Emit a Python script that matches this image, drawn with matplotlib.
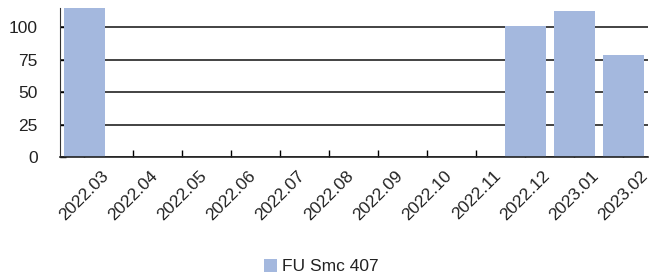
import numpy as np
import matplotlib.pyplot as plt

plt.rcParams['font.family'] = ['Liberation Sans', 'DejaVu Sans']

months = ['2022.03', '2022.04', '2022.05', '2022.06', '2022.07', '2022.08',
          '2022.09', '2022.10', '2022.11', '2022.12', '2023.01', '2023.02']
values = [118, 0, 0, 0, 0, 0, 0, 0, 0, 101, 113, 79]
series_name = 'FU Smc 407'
yticks = [0, 25, 50, 75, 100]

fig = plt.figure(figsize=(6.51, 2.73), dpi=100)
ax = fig.add_axes([0.092, 0.425, 0.903, 0.546])

x = np.arange(len(months))
ax.bar(x, values, width=0.83, color='#a4b8de', label=series_name, zorder=2)

ax.set_ylim(0, 115)
ax.set_xlim(-0.5, len(months) - 0.5)
ax.set_yticks(yticks)
ax.set_xticks(x)
ax.set_xticklabels(months, rotation=45, ha='center')
ax.yaxis.grid(True, color='#222222', linewidth=1.2, zorder=1)
ax.set_axisbelow(True)

for s in ['top', 'right']:
    ax.spines[s].set_visible(False)
ax.spines['left'].set_color('#333333')
ax.spines['bottom'].set_color('#222222')
ax.spines['bottom'].set_linewidth(1.2)
ax.tick_params(axis='x', direction='in', length=5, width=1, labelsize=12.5, pad=8,
               labelcolor='#222222')
ax.tick_params(axis='y', direction='in', length=4, width=1, labelsize=12.5, pad=16,
               labelcolor='#222222')

fig.legend(loc='lower center', bbox_to_anchor=(0.493, -0.062), frameon=False,
           fontsize=12.5, handlelength=0.8, handleheight=0.8, handletextpad=0.25,
           labelcolor='#222222')

fig.savefig('out.png', dpi=100)
